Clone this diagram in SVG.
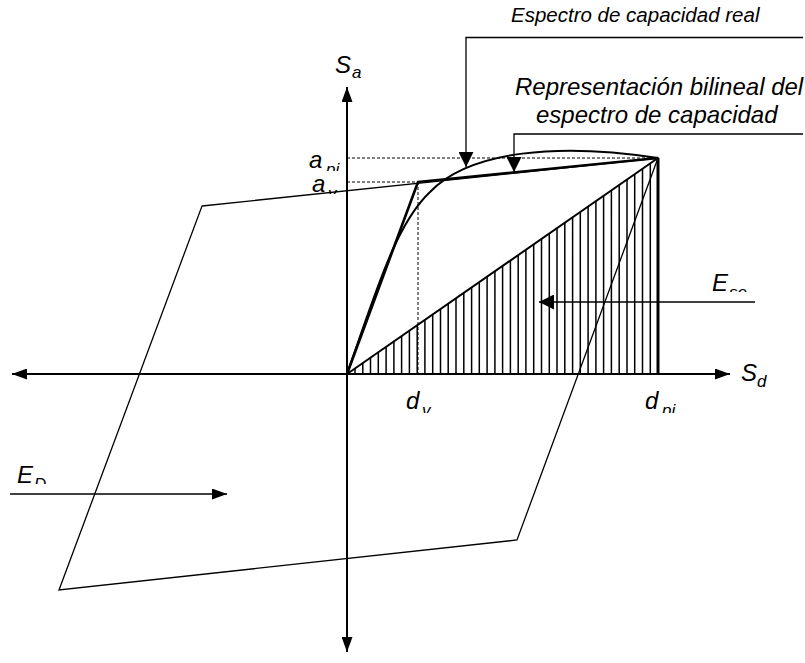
<svg xmlns="http://www.w3.org/2000/svg" width="805" height="663" viewBox="0 0 805 663">
<style>
  text { font-family: "Liberation Sans", Arial, sans-serif; font-style: italic; fill: #000; }
  .main { font-size: 24px; }
  .title { font-size: 20.5px; }
  .sub { font-size: 17px; }
  .ln { fill: none; stroke: #000; }
  .axis { stroke-width: 2; }
  .thin { stroke-width: 1.3; }
  .dot { stroke-width: 1; stroke-dasharray: 3 2; }
</style>
<defs>
  <marker id="ah" viewBox="0 0 15 11" refX="15" refY="5.5" markerWidth="15" markerHeight="11" markerUnits="userSpaceOnUse" orient="auto">
    <path d="M0,0 L15,5.5 L0,11 Z" fill="#000"/>
  </marker>
  <marker id="ahw" viewBox="0 0 15 15" refX="15" refY="7.5" markerWidth="15" markerHeight="15" markerUnits="userSpaceOnUse" orient="auto">
    <path d="M0,0 L15,7.5 L0,15 Z" fill="#000"/>
  </marker>
  <clipPath id="c-api"><rect x="320" y="150" width="40" height="21"/></clipPath>
  <clipPath id="c-av"><rect x="320" y="180" width="40" height="14"/></clipPath>
  <clipPath id="c-dv"><rect x="418" y="395" width="30" height="18"/></clipPath>
  <clipPath id="c-dpi"><rect x="658" y="395" width="40" height="18"/></clipPath>
  <clipPath id="c-eso"><rect x="725" y="275" width="40" height="17"/></clipPath>
  <clipPath id="c-ed"><rect x="30" y="465" width="40" height="19"/></clipPath>
</defs>
<rect width="805" height="663" fill="#fff"/>

<g id="hatch">
  <path class="ln" stroke-width="1.5" d="M355,374V368.4 M362.8,374V363 M370.5,374V357.7 M378.3,374V352.3 M386.1,374V346.8 M393.9,374V341.4 M401.6,374V336.1 M409.4,374V330.7 M417.2,374V325.2 M424.9,374V319.9 M432.7,374V314.5 M440.5,374V309.1 M448.2,374V303.7 M456,374V298.3 M463.8,374V292.9 M471.6,374V287.5 M479.3,374V282.1 M487.1,374V276.7 M494.9,374V271.3 M502.6,374V265.9 M510.4,374V260.5 M518.2,374V255.1 M525.9,374V249.8 M533.7,374V244.3 M541.5,374V238.9 M549.3,374V233.5 M557,374V228.2 M564.8,374V222.7 M572.6,374V217.3 M580.3,374V212 M588.1,374V206.6 M595.9,374V201.1 M603.6,374V195.8 M611.4,374V190.4 M619.2,374V185 M627,374V179.5 M634.7,374V174.2 M642.5,374V168.8 M650.3,374V163.4"/>
  <path class="ln" stroke-width="3" d="M658,374V158"/>
  <path class="ln" stroke-width="2" d="M347,374L658,158"/>
</g>

<g id="guides">
  <path class="ln dot" d="M347,158H658 M347,182H418 M418,182V374"/>
</g>

<g id="parallelogram">
  <path class="ln thin" d="M202,206 L658,158 L517,540 L59,590 Z"/>
</g>

<g id="axes">
  <path class="ln axis" d="M347,374H730" marker-end="url(#ah)"/>
  <path class="ln axis" d="M347,374H12" marker-end="url(#ah)"/>
  <path class="ln axis" d="M347,374V87" marker-end="url(#ah)"/>
  <path class="ln axis" d="M347,374V652" marker-end="url(#ah)"/>
</g>

<g id="spectrum-real">
  <path class="ln" stroke-width="2" d="M347,374 C375,295 395,225 430,192 C470,150 560,143 658,158"/>
</g>

<g id="spectrum-bilinear">
  <path class="ln" stroke-width="2.6" stroke-linejoin="round" d="M347,374 L418,182 L658,158"/>
</g>

<g id="connectors">
  <path class="ln thin" d="M803,37.5H466V167" marker-end="url(#ahw)"/>
  <path class="ln thin" d="M803,134H514V172" marker-end="url(#ahw)"/>
  <path class="ln thin" d="M755,302H539" marker-end="url(#ahw)"/>
  <path class="ln thin" d="M10,494H227" marker-end="url(#ah)"/>
</g>

<g id="labels">
  <text class="title" x="511" y="22">Espectro de capacidad real</text>
  <text class="main" x="515" y="95">Representación bilineal del</text>
  <text class="main" x="536" y="123">espectro de capacidad</text>

  <text class="main" x="335" y="73">S</text>
  <text class="sub" x="352" y="78">a</text>

  <text class="main" x="309" y="168">a</text>
  <text class="sub" x="326" y="175" clip-path="url(#c-api)">pi</text>
  <text class="main" x="312" y="192">a</text>
  <text class="sub" x="328" y="199" clip-path="url(#c-av)">v</text>

  <text class="main" x="406" y="409">d</text>
  <text class="sub" x="422" y="416" clip-path="url(#c-dv)">v</text>
  <text class="main" x="645" y="409">d</text>
  <text class="sub" x="662" y="416" clip-path="url(#c-dpi)">pi</text>

  <text class="main" x="741" y="381">S</text>
  <text class="sub" x="757" y="387">d</text>

  <text class="main" x="712" y="291">E</text>
  <text class="sub" x="729" y="298" clip-path="url(#c-eso)">so</text>
  <text class="main" x="17" y="483">E</text>
  <text class="sub" x="34" y="490" clip-path="url(#c-ed)">D</text>
</g>
</svg>
